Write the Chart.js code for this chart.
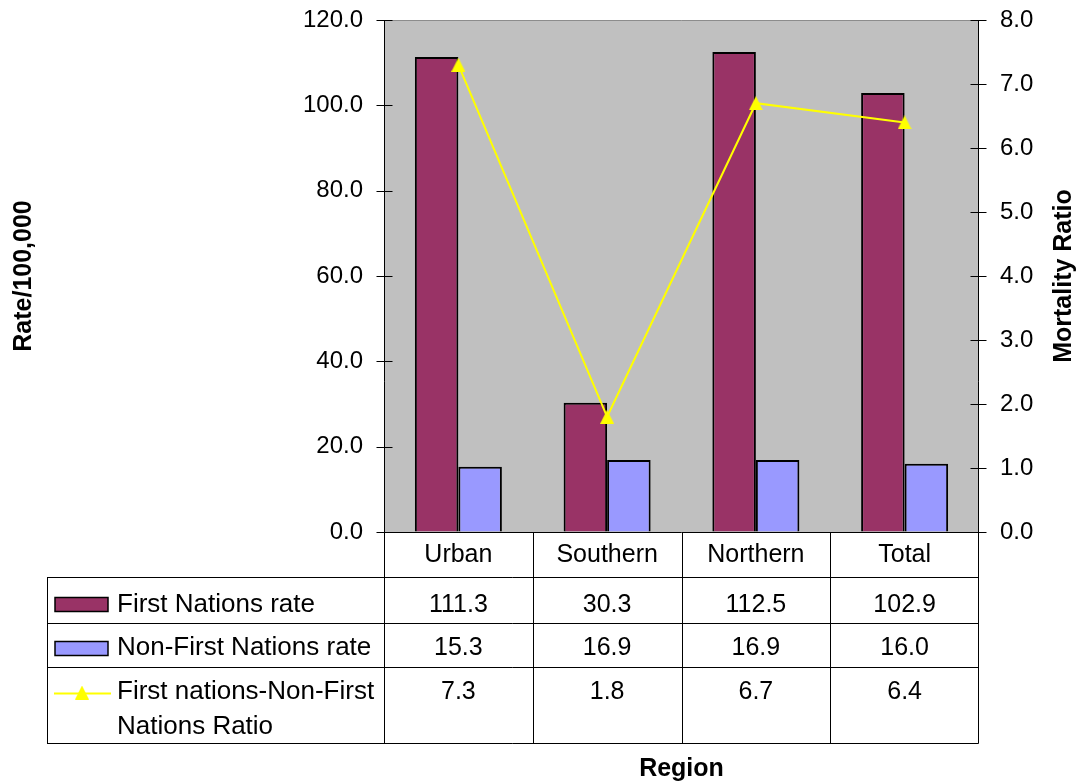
<!DOCTYPE html>
<html>
<head>
<meta charset="utf-8">
<title>Mortality rates by region</title>
<script src="https://cdn.jsdelivr.net/npm/chart.js@4/dist/chart.umd.min.js"></script>
<style>
  html, body { margin: 0; padding: 0; background: #ffffff; }
  #wrap { width: 1080px; height: 783px; position: relative; }
</style>
</head>
<body>
<div id="wrap"><canvas id="chart" width="1080" height="783"></canvas></div>
<script>
// Data
const regions = ['Urban', 'Southern', 'Northern', 'Total'];
const firstNationsRate = [111.3, 30.3, 112.5, 102.9];
const nonFirstNationsRate = [15.3, 16.9, 16.9, 16.0];
const mortalityRatio = [7.3, 1.8, 6.7, 6.4];
const rateTicks = [0, 20, 40, 60, 80, 100, 120];
const ratioTicks = [0, 1, 2, 3, 4, 5, 6, 7, 8];

const seriesLabels = ['First Nations rate', 'Non-First Nations rate', 'First nations-Non-First Nations Ratio'];
const leftTitle = 'Rate/100,000';
const rightTitle = 'Mortality Ratio';
const bottomTitle = 'Region';

// Styling
const FONT = '"Liberation Sans", Arial, sans-serif';
const TICK_SIZE = 24;
const TABLE_SIZE = 25;
const LEGEND_SIZE = 26;
const TITLE_SIZE = 25;
const COL_FN = '#993366';
const COL_NFN = '#9999FF';
const COL_RATIO = '#FFFF00';
const PLOT_BG = '#C0C0C0';

// Data-table geometry (offsets below the plot area)
const HEADER_H = 45;
const ROW_H = [46, 44, 76];
const TABLE_LEFT = 47;
const KEY_X = 55, KEY_W = 53, TEXT_X = 117;

// Triangle marker centred on its bounding box
const MARK = 14;
const triangleMarker = (() => {
  const c = document.createElement('canvas');
  c.width = MARK; c.height = MARK;
  const g = c.getContext('2d');
  g.fillStyle = COL_RATIO;
  g.beginPath();
  g.moveTo(MARK / 2, 0);
  g.lineTo(MARK, MARK);
  g.lineTo(0, MARK);
  g.closePath();
  g.fill();
  return c;
})();

function wrapText(ctx, text, maxW) {
  const words = text.split(' ');
  const lines = [];
  let cur = '';
  for (const w of words) {
    const t = cur ? cur + ' ' + w : w;
    if (ctx.measureText(t).width > maxW && cur) { lines.push(cur); cur = w; }
    else cur = t;
  }
  if (cur) lines.push(cur);
  return lines;
}

// Fixed-width vertical axes; tick labels may overhang the plot edges
function fixAxisWidth(width) {
  return s => {
    s.width = width;
    s.paddingTop = 0;
    s.paddingBottom = 0;
  };
}

const frameAndTable = {
  id: 'frameAndTable',
  beforeDraw(chart) {
    const { ctx, chartArea: a } = chart;
    ctx.save();
    ctx.fillStyle = '#ffffff';
    ctx.fillRect(0, 0, chart.width, chart.height);
    ctx.fillStyle = PLOT_BG;
    ctx.fillRect(a.left, a.top, a.right - a.left, a.bottom - a.top);
    ctx.strokeStyle = '#8c8c8c';
    ctx.lineWidth = 1;
    ctx.beginPath();
    ctx.moveTo(a.left, a.top + 0.5);
    ctx.lineTo(a.right, a.top + 0.5);
    ctx.stroke();
    ctx.restore();
  },
  afterDraw(chart) {
    const { ctx, chartArea: a, scales } = chart;
    const x = scales.x, yL = scales.yRate, yR = scales.yRatio;
    const L = Math.round(a.left) + 0.5, R = Math.round(a.right) - 0.5;
    const B = Math.round(a.bottom) + 0.5;
    const rows = [B + HEADER_H];
    ROW_H.forEach(h => rows.push(rows[rows.length - 1] + h));
    const tableBottom = rows[rows.length - 1];

    ctx.save();
    ctx.strokeStyle = '#000000';
    ctx.lineWidth = 1;
    ctx.beginPath();
    // axes, continuing down as table borders
    ctx.moveTo(L, a.top); ctx.lineTo(L, tableBottom);
    ctx.moveTo(R, a.top); ctx.lineTo(R, tableBottom);
    // tick marks crossing the axes
    rateTicks.forEach(v => {
      const y = Math.round(yL.getPixelForValue(v)) + 0.5;
      ctx.moveTo(L - 8, y); ctx.lineTo(L + 8, y);
    });
    ratioTicks.forEach(v => {
      const y = Math.round(yR.getPixelForValue(v)) + 0.5;
      ctx.moveTo(R - 8, y); ctx.lineTo(R + 8, y);
    });
    // plot base / table header top
    ctx.moveTo(L, B); ctx.lineTo(R, B);
    // table rows
    rows.forEach(y => { ctx.moveTo(TABLE_LEFT, y); ctx.lineTo(R, y); });
    ctx.moveTo(TABLE_LEFT + 0.5, rows[0]); ctx.lineTo(TABLE_LEFT + 0.5, tableBottom);
    // column separators between categories
    for (let i = 1; i < regions.length; i++) {
      const xb = Math.round((x.getPixelForValue(i - 1) + x.getPixelForValue(i)) / 2) + 0.5;
      ctx.moveTo(xb, B); ctx.lineTo(xb, tableBottom);
    }
    ctx.stroke();

    // category labels
    ctx.fillStyle = '#000000';
    ctx.font = `${TABLE_SIZE}px ${FONT}`;
    ctx.textAlign = 'center';
    ctx.textBaseline = 'alphabetic';
    regions.forEach((r, i) => ctx.fillText(r, x.getPixelForValue(i), B + 29));

    // values
    const series = [firstNationsRate, nonFirstNationsRate, mortalityRatio];
    const baseOff = [34, 31, 31];
    series.forEach((vals, s) => {
      vals.forEach((v, i) => ctx.fillText(v.toFixed(1), x.getPixelForValue(i), rows[s] + baseOff[s]));
    });

    // legend keys and names
    ctx.font = `${LEGEND_SIZE}px ${FONT}`;
    ctx.textAlign = 'left';
    ctx.lineWidth = 1.5;
    const keyCols = [COL_FN, COL_NFN];
    for (let s = 0; s < 2; s++) {
      const mid = rows[s] + (s === 0 ? 24 : 22);
      ctx.fillStyle = keyCols[s];
      ctx.fillRect(KEY_X, mid - 4, KEY_W, 14);
      ctx.strokeStyle = '#000000';
      ctx.strokeRect(KEY_X, mid - 4, KEY_W, 14);
      ctx.fillStyle = '#000000';
      ctx.fillText(seriesLabels[s], TEXT_X, rows[s] + baseOff[s]);
    }
    // line key
    const ly = rows[2] + 26;
    ctx.strokeStyle = COL_RATIO;
    ctx.lineWidth = 2;
    ctx.beginPath();
    ctx.moveTo(KEY_X - 1, ly); ctx.lineTo(KEY_X + 56, ly);
    ctx.stroke();
    ctx.drawImage(triangleMarker, KEY_X + 27 - MARK / 2, ly - MARK / 2 - 1);
    ctx.fillStyle = '#000000';
    const lines = wrapText(ctx, seriesLabels[2], L - TEXT_X - 4);
    lines.forEach((t, k) => ctx.fillText(t, TEXT_X, rows[2] + 31 + k * 35));

    // axis titles
    ctx.font = `bold ${TITLE_SIZE}px ${FONT}`;
    ctx.textAlign = 'center';
    const midY = (a.top + a.bottom) / 2;
    ctx.save();
    ctx.translate(31, midY);
    ctx.rotate(-Math.PI / 2);
    ctx.fillText(leftTitle, 0, 0);
    ctx.restore();
    ctx.save();
    ctx.translate(1071, midY);
    ctx.rotate(-Math.PI / 2);
    ctx.fillText(rightTitle, 0, 0);
    ctx.restore();
    ctx.fillText(bottomTitle, (a.left + a.right) / 2, 776);
    ctx.restore();
  }
};

const tickFont = { family: FONT, size: TICK_SIZE };

new Chart(document.getElementById('chart'), {
  data: {
    labels: regions,
    datasets: [
      {
        type: 'bar', label: seriesLabels[0], data: firstNationsRate, yAxisID: 'yRate',
        backgroundColor: COL_FN, borderColor: '#000000', borderWidth: 2, order: 1,
        categoryPercentage: 0.585, barPercentage: 1.0
      },
      {
        type: 'bar', label: seriesLabels[1], data: nonFirstNationsRate, yAxisID: 'yRate',
        backgroundColor: COL_NFN, borderColor: '#000000', borderWidth: 2, order: 1,
        categoryPercentage: 0.585, barPercentage: 1.0
      },
      {
        type: 'line', label: seriesLabels[2], data: mortalityRatio, yAxisID: 'yRatio',
        borderColor: COL_RATIO, backgroundColor: COL_RATIO, borderWidth: 2, tension: 0,
        pointStyle: triangleMarker, pointRadius: 7, pointHoverRadius: 7,
        order: 0
      }
    ]
  },
  options: {
    responsive: false,
    animation: false,
    devicePixelRatio: 1,
    layout: { padding: { top: 20, bottom: 251, left: 0, right: 0 } },
    plugins: { legend: { display: false }, tooltip: { enabled: false }, title: { display: false } },
    scales: {
      x: { display: false, offset: true, grid: { display: false } },
      yRate: {
        position: 'left', min: 0, max: 120,
        afterBuildTicks: s => { s.ticks = rateTicks.map(v => ({ value: v })); },
        afterFit: fixAxisWidth(384),
        ticks: { padding: 21, color: '#000000', font: tickFont, callback: v => Number(v).toFixed(1) },
        grid: { drawOnChartArea: false, drawTicks: false },
        border: { display: false }
      },
      yRatio: {
        position: 'right', min: 0, max: 8,
        afterBuildTicks: s => { s.ticks = ratioTicks.map(v => ({ value: v })); },
        afterFit: fixAxisWidth(101),
        ticks: { padding: 21, color: '#000000', font: tickFont, callback: v => Number(v).toFixed(1) },
        grid: { drawOnChartArea: false, drawTicks: false },
        border: { display: false }
      }
    }
  },
  plugins: [frameAndTable]
});
</script>
</body>
</html>
